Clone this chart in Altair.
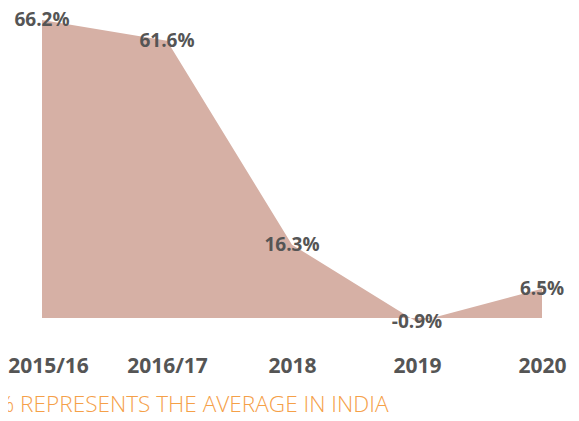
import altair as alt
import pandas as pd

categories = ["2015/16", "2016/17", "2018", "2019", "2020"]
values = [66.2, 61.6, 16.3, -0.9, 6.5]
labels = [f"{v}%" for v in values]
caption = ["%  REPRESENTS THE AVERAGE IN INDIA"]

df = pd.DataFrame({"period": categories, "value": values, "label": labels})
cap_df = pd.DataFrame({"text": caption})

x_enc = alt.X(
    "period:N",
    sort=categories,
    scale=alt.Scale(type="point", domain=categories, range=[34, 534], padding=0),
    axis=alt.Axis(
        title=None, labelAngle=0, domain=False, ticks=False, grid=False,
        labelFont="Open Sans", labelFontSize=21, labelFontWeight="bold",
        labelColor="#555555", labelPadding=2,
        labelOffset={"condition": {"test": "datum.value === '2015/16'", "value": 6}, "value": 0},
    ),
)
y_scale = alt.Scale(domain=[0, 70], range=[310, -5], zero=False, nice=False)

area = alt.Chart(df).mark_area(color="#d6b0a5", interpolate="linear").encode(
    x=x_enc,
    y=alt.Y("value:Q", scale=y_scale, axis=None),
    y2=alt.datum(0),
)

text = alt.Chart(df).mark_text(
    font="Open Sans", fontSize=19, fontWeight="bold", color="#555555",
    align="center", baseline="middle",
).encode(
    x=alt.X("period:N", sort=categories),
    y=alt.Y("value:Q"),
    text="label:N",
)

cap = alt.Chart(cap_df).mark_text(
    font="Open Sans", fontSize=22.6, fontWeight=300, color="#f5a048",
    align="left", baseline="middle",
).encode(
    x=alt.value(-12),
    y=alt.value(397),
    text="text:N",
)

chart = alt.layer(area, text, cap).properties(
    width=563, height=345,
    autosize=alt.AutoSizeParams(type="none"),
    padding={"left": 0, "top": 0, "right": 0, "bottom": 60},
    background="white",
).configure_view(stroke=None)

chart.save("out.html", embed_options={"renderer": "svg", "actions": False})
